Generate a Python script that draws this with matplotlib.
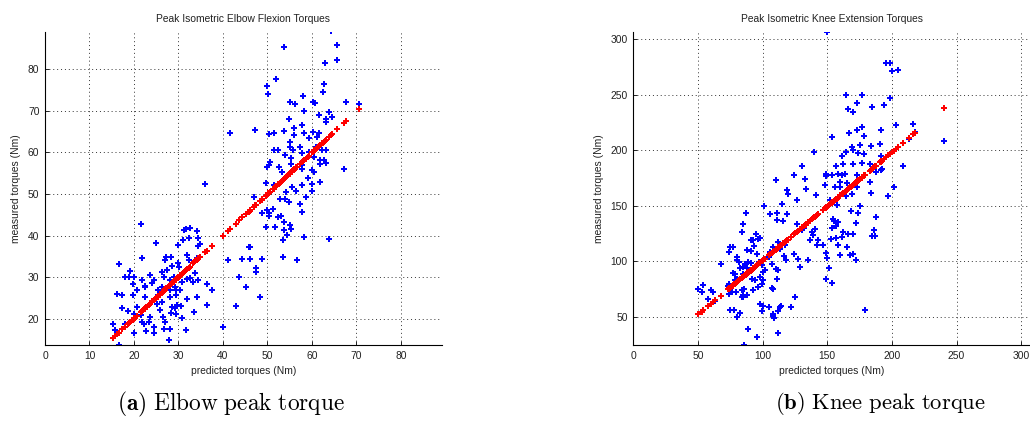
import matplotlib
matplotlib.use("Agg")
import matplotlib.pyplot as plt
import numpy as np

plt.rcParams['font.family'] = ['Liberation Sans', 'DejaVu Sans']
plt.rcParams['mathtext.fontset'] = 'cm'

# ---------------- Elbow data (predicted, measured) ----------------
elbow_pred = [
    16.6, 16.2, 15.2, 15.7, 16.6, 17.4, 17.4, 18.0, 19.1, 19.0, 20.1, 19.7, 19.7, 18.7, 18.0, 19.9,
    20.1, 20.7, 20.7, 21.6, 21.7, 21.7, 22.4, 22.4, 22.5, 21.5, 21.8, 22.2, 22.7, 23.3, 23.5, 23.5,
    24.1, 24.4, 24.4, 24.5, 24.9, 24.8, 25.2, 25.5, 25.3, 25.9, 26.3, 26.7, 26.3, 26.2, 26.9, 27.3,
    27.4, 26.5, 27.0, 26.7, 27.8, 28.0, 28.3, 28.5, 28.0, 28.2, 28.2, 28.5, 28.3, 28.9, 29.1, 29.3,
    29.5, 29.5, 29.7, 29.3, 29.4, 29.8, 30.1, 30.4, 30.8, 30.6, 30.8, 30.0, 31.0, 31.3, 31.7, 32.5,
    32.3, 31.9, 32.3, 31.9, 32.5, 31.9, 31.8, 33.3, 33.8, 33.6, 34.2, 34.3, 34.3, 34.9, 34.2, 34.5,
    34.2, 36.4, 36.4, 37.6, 36.0, 40.0, 41.1, 42.9, 43.7, 44.4, 45.2, 45.8, 46.2, 46.0, 47.5, 47.5,
    48.3, 48.9, 49.6, 48.7, 49.9, 50.3, 50.3, 51.2, 51.8, 52.4, 53.0, 53.5, 53.5, 53.7, 54.5, 53.8,
    55.2, 55.3, 54.9, 56.7, 57.4, 57.9, 58.2, 63.8,
    64.4, 65.7, 65.7, 62.9, 53.7, 52.0, 49.9, 50.2, 62.7, 62.5, 58.0, 55.0, 56.2, 60.2, 60.8, 67.6,
    70.6, 58.3, 63.8, 64.6, 63.1, 63.1, 61.6, 54.8, 56.1, 57.8, 60.2, 58.2, 61.2, 61.7, 59.3, 55.9,
    53.8, 50.4, 51.4, 41.7, 47.3, 55.0, 55.2, 57.4, 55.8, 57.8, 53.9, 55.3, 51.4, 52.4, 60.9, 59.3,
    60.6, 62.3, 63.1, 55.4, 57.8, 61.9, 62.7, 63.1, 61.9, 60.1, 60.4, 57.7, 50.5, 50.3, 49.9, 52.6,
    53.2, 67.3, 59.1, 61.9, 55.6, 57.7, 60.1, 56.5, 49.7, 51.4, 54.3, 60.1, 58.6, 46.9, 52.8, 53.9,
]
elbow_meas = [
    33.2, 26.1, 18.9, 17.3, 13.9, 25.7, 22.6, 30.0, 31.6, 30.0, 30.0, 28.4, 25.9, 22.0, 18.9, 16.6,
    21.3, 23.0, 26.9, 42.8, 34.6, 29.3, 28.0, 27.7, 25.4, 21.0, 19.4, 18.9, 17.2, 19.4, 20.6, 30.5,
    28.6, 29.4, 18.2, 16.6, 38.2, 24.8, 23.7, 27.0, 25.8, 22.1, 24.2, 30.2, 31.2, 27.8, 34.1, 34.9,
    31.7, 20.6, 19.2, 17.6, 15.0, 17.6, 34.9, 32.8, 29.4, 27.0, 25.3, 23.0, 21.4, 30.2, 29.0, 27.8,
    27.0, 25.8, 23.4, 22.6, 21.3, 33.4, 32.5, 26.9, 29.0, 23.2, 20.2, 37.8, 38.9, 41.4, 41.6, 41.9,
    39.5, 35.4, 34.2, 29.6, 29.8, 24.9, 17.4, 28.8, 31.0, 21.8, 41.2, 39.4, 37.6, 38.0, 34.6, 29.3,
    25.4, 28.5, 23.4, 27.0, 52.3, 18.0, 34.1, 23.2, 30.1, 34.5, 27.7, 37.3, 37.3, 34.5, 32.2, 31.2,
    25.3, 34.5, 42.1, 45.4, 46.2, 45.4, 44.8, 46.4, 42.2, 44.5, 44.7, 34.9, 39.0, 41.4, 40.2, 43.4,
    42.6, 41.6, 48.0, 34.2, 47.6, 45.8, 39.8, 39.3,
    89.0, 85.7, 82.2, 81.4, 85.3, 77.6, 76.0, 74.1, 76.5, 74.6, 73.6, 72.2, 71.7, 72.2, 71.8, 72.2,
    71.7, 69.9, 69.7, 68.4, 68.0, 67.2, 69.0, 68.0, 65.8, 66.6, 64.8, 64.6, 63.6, 64.6, 63.4, 64.2,
    65.2, 64.4, 64.6, 64.6, 65.3, 62.6, 61.2, 61.4, 60.5, 59.8, 59.4, 58.6, 60.6, 60.6, 61.4, 60.2,
    58.8, 60.6, 60.5, 57.2, 56.9, 58.2, 58.1, 57.4, 57.3, 55.8, 55.2, 56.0, 57.8, 57.0, 56.4, 56.6,
    55.4, 56.0, 53.8, 52.8, 51.6, 52.2, 52.4, 50.8, 52.6, 52.2, 50.4, 50.8, 49.3, 49.4, 48.8, 48.8,
]
elbow_fit_x = [15.3, 70.0]
elbow_fit_y = [15.5, 69.8]

# ---------------- Knee data (predicted, measured) ----------------
knee_pred = [
    149.5, 195.4, 198.5, 200.3, 204.9, 164.4, 176.5, 198.5, 172.7, 194.1, 166.2, 169.6, 184.3, 216.5,
    202.8, 176.5, 172.7, 191.5, 167.0, 178.6, 217.8, 240.5, 213.1, 153.9, 175.3, 168.8, 170.1, 174.0,
    183.5, 190.7, 191.5, 161.1, 178.6, 164.2, 139.9, 162.4, 169.6, 176.5, 192.1, 191.2, 187.6, 183.0,
    130.2, 208.8, 156.7, 153.9, 158.0, 163.7, 161.1, 149.0, 148.7, 124.2, 110.3, 132.7, 148.2, 160.1,
    165.0, 172.7, 173.2, 183.0, 201.5, 118.6, 119.3, 133.2, 141.0, 155.9, 160.1, 172.7, 183.8, 164.2,
    168.8, 197.2, 152.1, 126.3,
    114.7, 101.0, 157.2, 175.3, 168.0, 173.7, 187.4, 86.9, 105.7, 110.8, 118.6, 116.0, 110.8, 126.3,
    132.2, 138.1, 130.7, 154.1, 155.2, 158.5, 156.7, 153.4, 171.9, 186.1, 184.3, 186.9, 170.1, 166.2,
    161.9, 161.1, 156.5, 153.0, 158.5, 165.0, 170.1, 167.5, 159.8, 172.2, 148.7, 149.5, 151.6, 149.0,
    153.9, 139.2, 146.9, 142.3, 143.0, 136.6, 135.3, 127.6, 124.5, 129.0, 117.3, 116.5, 117.8, 111.6,
    113.4, 107.7, 105.7, 104.6, 106.9, 110.1, 112.1, 110.8, 106.9, 107.7, 99.2, 100.5, 97.9, 96.6,
    100.0, 99.2, 101.8, 97.2, 95.4, 96.6, 97.9, 92.8, 94.8, 90.7, 93.3, 91.0, 87.6, 88.9, 90.7, 86.3,
    84.5, 88.1, 90.2, 86.9, 84.5, 82.5, 81.7, 79.9, 80.4, 74.7, 77.3, 74.0, 84.3, 84.5, 67.5, 78.4,
    76.8, 79.9, 78.4, 74.2, 73.2, 76.0, 79.4, 84.3, 85.8, 85.1, 87.6, 85.1, 74.2, 74.7, 78.1, 79.9,
    82.5, 83.8, 92.8, 91.5, 94.1, 97.9, 100.0, 99.2, 104.6, 107.7, 108.2, 108.8, 113.4, 114.2, 112.1,
    121.6, 125.1, 111.6, 88.9, 95.9, 85.8, 50.3, 54.1, 52.8, 57.5, 60.1, 61.9, 63.1, 140.5, 179.1,
]
knee_meas = [
    306.0, 278.1, 278.1, 271.6, 272.5, 249.4, 250.0, 247.0, 242.5, 241.0, 237.1, 234.4, 239.2, 223.1,
    222.8, 220.4, 218.3, 218.3, 215.3, 212.3, 216.2, 207.8, 209.9, 211.7, 204.2, 202.7, 199.7, 197.3,
    203.3, 205.1, 194.6, 194.9, 196.7, 198.2, 198.2, 187.7, 187.7, 188.3, 183.2, 181.7, 179.9, 187.1,
    185.9, 185.3, 185.3, 177.8, 178.7, 178.7, 177.2, 178.7, 176.6, 177.2, 172.8, 173.7, 168.9, 171.3,
    170.4, 177.2, 171.9, 171.3, 166.8, 164.4, 160.2, 165.3, 159.9, 166.8, 166.8, 166.8, 161.7, 158.4,
    160.8, 158.7, 155.4, 154.8,
    151.2, 149.7, 150.3, 149.4, 145.2, 143.7, 139.8, 143.7, 142.8, 143.7, 142.2, 135.9, 136.8, 133.2,
    129.9, 126.3, 128.4, 137.8, 135.9, 135.0, 131.4, 130.2, 134.4, 128.4, 122.8, 122.5, 124.3, 124.9,
    126.3, 121.9, 121.0, 119.8, 115.0, 112.9, 106.3, 105.4, 105.7, 100.9, 107.5, 103.3, 94.3, 84.4,
    80.5, 123.4, 114.4, 114.4, 118.9, 119.5, 101.5, 102.4, 106.9, 94.9, 114.4, 104.5, 101.5, 117.4,
    111.4, 112.9, 108.4, 103.9, 97.9, 93.4, 91.9, 84.4, 76.3, 75.4, 79.9, 82.9, 85.9, 76.9,
    90.4, 96.4, 91.9, 99.4, 106.9, 120.4, 121.3, 119.5, 124.9, 118.9, 113.8, 109.3, 109.9, 99.4, 98.5, 97.9,
    94.9, 94.3, 91.9, 88.9, 88.3, 94.3, 99.4, 100.9, 103.9, 112.9, 112.9, 108.4, 126.3, 133.8, 97.9, 88.9,
    89.5, 84.4, 82.9, 79.3, 77.5, 72.5, 72.5, 73.9, 75.4, 69.5, 69.5, 68.0, 70.4, 56.0, 56.0, 50.0,
    53.0, 67.4, 73.9, 84.4, 82.9, 61.4, 59.6, 55.4, 59.0, 50.6, 52.4, 49.1, 58.4, 59.6, 55.4,
    58.4, 67.4, 35.6, 38.6, 32.0, 24.6, 75.4, 79.0, 72.5, 65.9, 73.9, 72.5, 64.4, 129.3, 56.0,
]
knee_fit_x = [50.0, 240.0]
knee_fit_y = [52.0, 237.0]

panels = [
    dict(pred=elbow_pred, meas=elbow_meas, fx=elbow_fit_x, fy=elbow_fit_y,
         title='Peak Isometric Elbow Flexion Torques',
         xlim=(0, 89.2), ylim=(13.8, 88.95), xt=np.arange(0, 81, 10), yt=np.arange(20, 81, 10),
         rect=[0.0437, 0.1844, 0.3851, 0.7407],
         caption=r'$\mathbf{(a)}\ \mathrm{Elbow\ peak\ torque}$', cx=0.2245, cs=16.8),
    dict(pred=knee_pred, meas=knee_meas, fx=knee_fit_x, fy=knee_fit_y,
         title='Peak Isometric Knee Extension Torques',
         xlim=(0, 306.6), ylim=(24.6, 306.6), xt=np.arange(0, 301, 50), yt=np.arange(50, 301, 50),
         rect=[0.6149, 0.1844, 0.3849, 0.7407],
         caption=r'$\mathbf{(b)}\ \mathrm{Knee\ peak\ torque}$', cx=0.855, cs=16.3),
]

fig = plt.figure(figsize=(10.30, 4.23), dpi=100)
for p in panels:
    ax = fig.add_axes(p['rect'])
    pred = np.array(p['pred'])
    meas = np.array(p['meas'])
    slope = (p['fy'][1] - p['fy'][0]) / (p['fx'][1] - p['fx'][0])
    fitted = p['fy'][0] + slope * (pred - p['fx'][0])
    ax.plot(pred, meas, linestyle='none', marker='P', color='#0000ff',
            markersize=4.4, markeredgewidth=0)
    ax.plot(pred, fitted, linestyle='none', marker='P', color='#ff0000',
            markersize=4.4, markeredgewidth=0)
    ax.set_xlim(*p['xlim'])
    ax.set_ylim(*p['ylim'])
    ax.set_xticks(p['xt'])
    ax.set_yticks(p['yt'])
    ax.grid(True, linestyle=(0, (1, 3)), color='#333333', linewidth=0.7)
    ax.set_axisbelow(True)
    for s in ['top', 'right']:
        ax.spines[s].set_visible(False)
    for s in ['left', 'bottom']:
        ax.spines[s].set_linewidth(0.8)
    ax.tick_params(direction='in', length=3, width=0.7, labelsize=7.4, pad=4, colors='#222222')
    ax.set_title(p['title'], fontsize=7.4, pad=7, color='#222222')
    ax.set_xlabel('predicted torques (Nm)', fontsize=7.4, labelpad=4, color='#222222')
    ax.set_ylabel('measured torques (Nm)', fontsize=7.4, labelpad=5, color='#222222')
    fig.text(p['cx'], 0.045, p['caption'], fontsize=p['cs'], ha='center', va='center')

fig.savefig('out.png', dpi=100)
